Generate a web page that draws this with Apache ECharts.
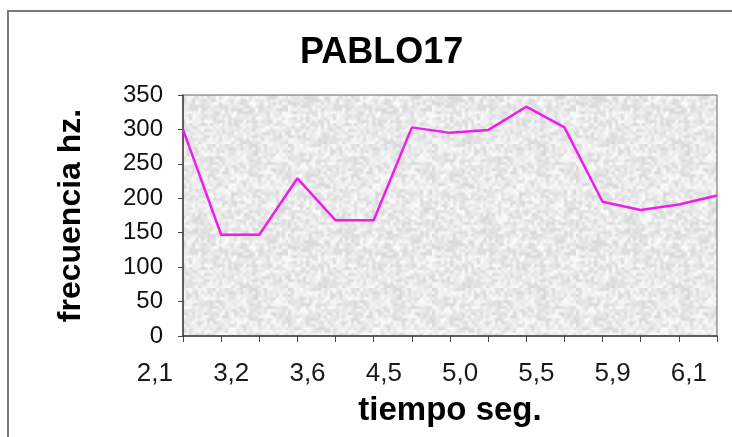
<!DOCTYPE html>
<html>
<head>
<meta charset="utf-8">
<script src="https://cdn.jsdelivr.net/npm/echarts@6/dist/echarts.min.js"></script>
<style>
html,body{margin:0;padding:0;background:#fff;}
#chart{width:732px;height:437px;}
</style>
</head>
<body>
<div id="chart"></div>
<script>
// Visible tick labels (tiempo, seg.) at every second category
var tickLabels = ['2,1', '3,2', '3,6', '4,5', '5,0', '5,5', '5,9', '6,1'];
// Frequency values (Hz) for the 15 sampled points
var frecuencia = [300, 147, 147, 229, 168, 168, 303, 295, 299, 333, 303, 195, 183, 191, 204];
var yTicks = {min: 0, max: 350, interval: 50};

var categories = [];
for (var i = 0; i < frecuencia.length; i++) {
  categories.push(i % 2 === 0 ? tickLabels[i / 2] : '');
}

// Decorative grey "granite" fill texture (deterministic hash, not data)
function makeTexture() {
  var n = 48, scale = 3;
  var small = document.createElement('canvas');
  small.width = n; small.height = n;
  var sctx = small.getContext('2d');
  var img = sctx.createImageData(n, n);
  for (var y = 0; y < n; y++) {
    for (var x = 0; x < n; x++) {
      var h = Math.sin(x * 127.1 + y * 311.7) * 43758.5453;
      h = h - Math.floor(h);
      var v = Math.round(214 + h * 40);
      var k = (y * n + x) * 4;
      img.data[k] = v; img.data[k + 1] = v; img.data[k + 2] = v; img.data[k + 3] = 255;
    }
  }
  sctx.putImageData(img, 0, 0);
  var c = document.createElement('canvas');
  c.width = n * scale; c.height = n * scale;
  var ctx = c.getContext('2d');
  ctx.imageSmoothingEnabled = true;
  ctx.drawImage(small, 0, 0, n * scale, n * scale);
  return c;
}

var chart = echarts.init(document.getElementById('chart'), null, {renderer: 'canvas'});
chart.setOption({
  animation: false,
  backgroundColor: '#ffffff',
  title: {
    text: 'PABLO17',
    left: 295,
    top: 30,
    textStyle: {fontFamily: 'Liberation Sans, Arial', fontWeight: 'bold', fontSize: 36, color: '#000'}
  },
  graphic: [{
    type: 'rect',
    shape: {x: 8, y: 11, width: 740, height: 440},
    style: {fill: 'none', stroke: '#7a7a7a', lineWidth: 2},
    silent: true
  }],
  grid: {
    left: 183, right: 15, top: 95, bottom: 101,
    show: true,
    backgroundColor: {image: makeTexture(), repeat: 'repeat'},
    borderColor: '#666',
    borderWidth: 1
  },
  xAxis: {
    type: 'category',
    data: categories,
    boundaryGap: false,
    name: 'tiempo seg.',
    nameLocation: 'middle',
    nameGap: 58,
    nameTextStyle: {fontFamily: 'Liberation Sans, Arial', fontWeight: 'bold', fontSize: 33, color: '#000'},
    axisLine: {lineStyle: {color: '#444', width: 1.5}},
    axisTick: {show: true, interval: 0, length: 6, inside: false, lineStyle: {color: '#444'}},
    axisLabel: {
      interval: 0,
      align: 'right',
      margin: 25,
      padding: [0, 10, 0, 0],
      fontFamily: 'Liberation Sans, Arial',
      fontSize: 26,
      color: '#1a1a1a'
    },
    splitLine: {show: false}
  },
  yAxis: {
    type: 'value',
    min: yTicks.min,
    max: yTicks.max,
    interval: yTicks.interval,
    name: 'frecuencia hz.',
    nameLocation: 'middle',
    nameGap: 96,
    nameRotate: 90,
    nameTextStyle: {fontFamily: 'Liberation Sans, Arial', fontWeight: 'bold', fontSize: 32, color: '#000'},
    axisLine: {show: true, lineStyle: {color: '#444', width: 1.5}},
    axisTick: {show: true, length: 5, inside: false, lineStyle: {color: '#444'}},
    axisLabel: {margin: 20, fontFamily: 'Liberation Sans, Arial', fontSize: 24, color: '#111'},
    splitLine: {show: false}
  },
  series: [{
    type: 'line',
    data: frecuencia,
    symbol: 'none',
    lineStyle: {color: '#ee1cee', width: 2.5},
    itemStyle: {color: '#ee1cee'}
  }]
});
</script>
</body>
</html>
